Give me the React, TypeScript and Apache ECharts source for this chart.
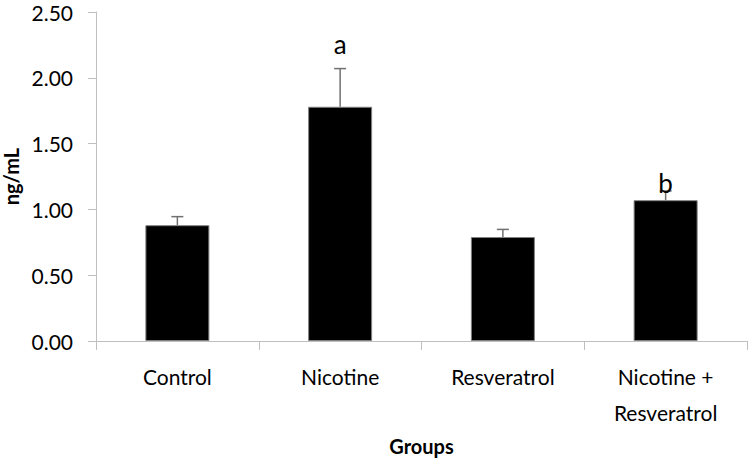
import React, { useEffect, useRef } from "react";
import * as echarts from "echarts";

const categories = ["Control", "Nicotine", "Resveratrol", "Nicotine +\nResveratrol"];
const means = [0.88, 1.78, 0.79, 1.07];
const sems = [0.065, 0.29, 0.058, 0.07];
const letters = ["", "a", "", "b"];
const letterPos = [0, 2.26, 0, 1.2];
const yTicks = { min: 0, max: 2.5, interval: 0.5 };

const FONT = "Lato, 'Liberation Sans', sans-serif";

export default function App() {
  const ref = useRef<HTMLDivElement>(null);
  useEffect(() => {
    if (!ref.current) return;
    const chart = echarts.init(ref.current, null, { renderer: "svg" });
    const errData = means.map((m, i) => [i, m, m + sems[i]]);
    const letterData = letters
      .map((l, i) => ({ value: [i, letterPos[i]], l }))
      .filter((d) => d.l !== "");
    chart.setOption({
      animation: false,
      grid: { left: 96, right: 3, top: 12, bottom: 121, containLabel: false, outerBoundsMode: "none" },
      xAxis: {
        type: "category",
        data: categories,
        name: "Groups",
        nameLocation: "middle",
        nameGap: 95,
        nameTextStyle: { fontFamily: FONT, fontSize: 20, fontWeight: "bold", color: "#000", verticalAlign: "top" },
        axisLine: { lineStyle: { color: "#bfbfbf", width: 1 } },
        axisTick: { show: true, length: 9, lineStyle: { color: "#bfbfbf" } },
        axisLabel: { interval: 0, margin: 17, fontFamily: FONT, fontSize: 21, color: "#000", lineHeight: 36 },
      },
      yAxis: {
        type: "value",
        min: yTicks.min,
        max: yTicks.max,
        interval: yTicks.interval,
        name: "ng/mL",
        nameLocation: "middle",
        nameGap: 73,
        nameTextStyle: { fontFamily: FONT, fontSize: 20, fontWeight: "bold", color: "#000" },
        axisLine: { show: true, lineStyle: { color: "#bfbfbf", width: 1 } },
        axisTick: { show: true, length: 8, lineStyle: { color: "#bfbfbf" } },
        splitLine: { show: false },
        axisLabel: {
          margin: 23,
          fontFamily: FONT,
          fontSize: 21,
          color: "#000",
          formatter: (v: number) => v.toFixed(2),
        },
      },
      series: [
        {
          type: "bar",
          data: means,
          barWidth: 64,
          itemStyle: { color: "#000", borderColor: "#808080", borderWidth: 1 },
          z: 2,
        },
        {
          type: "custom",
          data: errData,
          z: 3,
          renderItem: (params: any, api: any) => {
            const i = api.value(0);
            const p0 = api.coord([i, api.value(1)]);
            const p1 = api.coord([i, api.value(2)]);
            const st = { stroke: "#707070", lineWidth: 1.5 };
            return {
              type: "group",
              children: [
                { type: "line", shape: { x1: p0[0], y1: p0[1], x2: p1[0], y2: p1[1] }, style: st },
                { type: "line", shape: { x1: p1[0] - 6, y1: p1[1], x2: p1[0] + 6, y2: p1[1] }, style: st },
              ],
            };
          },
        },
        {
          type: "custom",
          data: letterData,
          z: 4,
          renderItem: (params: any, api: any) => {
            const p = api.coord([api.value(0), api.value(1)]);
            return {
              type: "text",
              x: p[0],
              y: p[1],
              style: {
                text: letterData[params.dataIndex].l,
                fontFamily: FONT,
                fontSize: 26,
                fill: "#000",
                align: "center",
                verticalAlign: "middle",
              },
            };
          },
        },
      ],
    });
    return () => chart.dispose();
  }, []);
  return <div ref={ref} style={{ position: "absolute", left: 0, top: 0, width: 750, height: 462 }} />;
}
